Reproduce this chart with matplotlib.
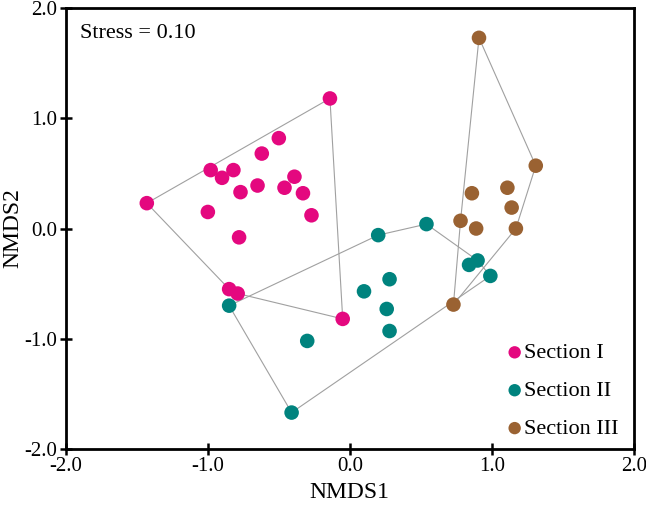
import matplotlib
matplotlib.use("Agg")
import matplotlib.pyplot as plt
import numpy as np

plt.rcParams["font.family"] = ["Liberation Serif", "DejaVu Serif"]
plt.rcParams["axes.unicode_minus"] = False

# NMDS scores
sec1_x = [-1.43, -0.14, -0.98, -0.90, -0.82, -1.00, -0.77, -0.65, -0.50, -0.62,
          -0.39, -0.46, -0.33, -0.27, -0.78, -0.85, -0.79, -0.05]
sec1_y = [0.23, 1.18, 0.53, 0.46, 0.53, 0.15, 0.33, 0.39, 0.82, 0.68,
          0.47, 0.37, 0.32, 0.12, -0.08, -0.55, -0.59, -0.82]

sec2_x = [-0.85, -0.30, -0.41, 0.20, 0.54, 0.10, 0.28, 0.26, 0.28, 0.84, 0.90, 0.99]
sec2_y = [-0.70, -1.02, -1.67, -0.06, 0.04, -0.57, -0.46, -0.73, -0.93, -0.33, -0.29, -0.43]

sec3_x = [0.91, 1.31, 0.86, 1.11, 1.14, 0.78, 0.89, 1.17, 0.73]
sec3_y = [1.73, 0.57, 0.32, 0.37, 0.19, 0.07, 0.00, 0.00, -0.69]

labels = ["Section I", "Section II", "Section III"]
colors = ["#E4087F", "#00837E", "#9A6232"]


def convex_hull(xs, ys):
    pts = sorted(zip(xs, ys))

    def cross(o, a, b):
        return (a[0] - o[0]) * (b[1] - o[1]) - (a[1] - o[1]) * (b[0] - o[0])

    lower, upper = [], []
    for p in pts:
        while len(lower) >= 2 and cross(lower[-2], lower[-1], p) <= 0:
            lower.pop()
        lower.append(p)
    for p in reversed(pts):
        while len(upper) >= 2 and cross(upper[-2], upper[-1], p) <= 0:
            upper.pop()
        upper.append(p)
    hull = lower[:-1] + upper[:-1]
    hull.append(hull[0])
    return np.array(hull)


fig = plt.figure(figsize=(6.46, 5.05), dpi=100)
ax = fig.add_axes([0.102, 0.111, 0.879, 0.873])

groups = [(sec1_x, sec1_y), (sec2_x, sec2_y), (sec3_x, sec3_y)]
for (xs, ys), lab, col in zip(groups, labels, colors):
    h = convex_hull(xs, ys)
    ax.plot(h[:, 0], h[:, 1], color="#a0a0a0", lw=0.8, zorder=1)
for (xs, ys), lab, col in zip(groups, labels, colors):
    ax.scatter(xs, ys, s=110, color=col, edgecolors="none", label=lab, zorder=2)

ax.set_xlim(-2, 2)
ax.set_ylim(-2, 2)
ticks = [-2.0, -1.0, 0.0, 1.0, 2.0]
ax.set_xticks(ticks)
ax.set_yticks(ticks)
ax.set_xticklabels([f"{t:.1f}" for t in ticks])
ax.set_yticklabels([f"{t:.1f}" for t in ticks])
ax.tick_params(direction="inout", length=8, width=1.8, labelsize=15, pad=2)
for sp in ax.spines.values():
    sp.set_linewidth(2)

ax.set_xlabel("NMDS1", fontsize=17, labelpad=4)
ax.set_ylabel("NMDS2", fontsize=17, labelpad=1)

ax.text(0.025, 0.965, "Stress = 0.10", transform=ax.transAxes,
        fontsize=16, va="top", ha="left")

leg = ax.legend(loc="lower right", frameon=False, fontsize=16,
                handletextpad=-0.6, labelspacing=0.78, markerscale=0.85,
                borderaxespad=0.05, bbox_to_anchor=(0.99, 0.0))

fig.savefig("out.png", dpi=100)
